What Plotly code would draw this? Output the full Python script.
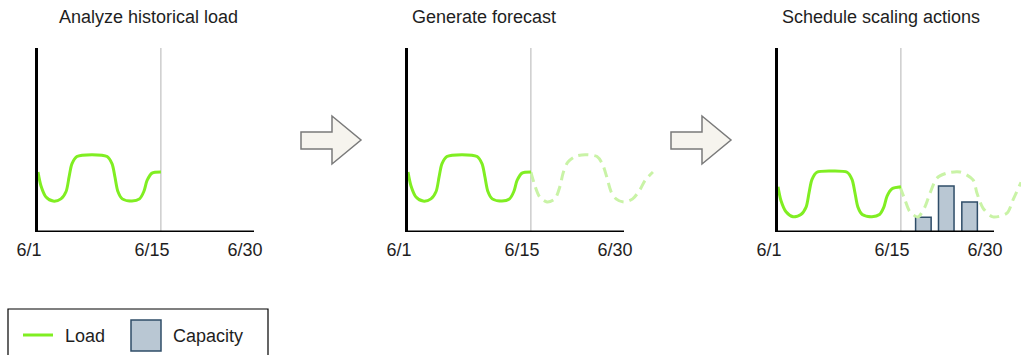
import plotly.graph_objects as go

# ── data ─────────────────────────────────────────────────────────────────────
# x is the time axis as a fraction of the month window (6/1 = 0, 6/30 = 1)
TICK_VALS = [0, 0.569, 1.0]
TICK_TEXT = ["6/1", "6/15", "6/30"]
SPLIT_X = 0.569          # "today" marker (6/15)

hist_x = [0, 0.014, 0.037, 0.07, 0.106, 0.13, 0.144, 0.157, 0.18, 0.25, 0.32,
          0.343, 0.356, 0.37, 0.39, 0.435, 0.47, 0.49, 0.505, 0.528, 0.569]
hist_load = [0.326, 0.25, 0.19, 0.168, 0.18, 0.22, 0.30, 0.37, 0.41, 0.42, 0.41,
             0.37, 0.30, 0.22, 0.18, 0.168, 0.18, 0.22, 0.28, 0.32, 0.326]

fc_x = [0.569, 0.588, 0.61, 0.644, 0.68, 0.704, 0.718, 0.74, 0.773, 0.82, 0.875,
        0.9, 0.92, 0.94, 0.963, 1.0, 1.04, 1.074, 1.097, 1.134]
fc_load = [0.326, 0.25, 0.19, 0.163, 0.18, 0.25, 0.32, 0.38, 0.41, 0.42, 0.41,
           0.37, 0.30, 0.22, 0.18, 0.163, 0.18, 0.23, 0.28, 0.326]

# third panel: load drawn lower to leave room for the capacity bars
hist3_load = [0.246, 0.17, 0.11, 0.083, 0.095, 0.135, 0.215, 0.285, 0.325, 0.332, 0.325,
              0.285, 0.215, 0.135, 0.095, 0.083, 0.095, 0.135, 0.195, 0.235, 0.246]
fc3_x = [0.565, 0.588, 0.611, 0.648, 0.68, 0.704, 0.736, 0.782, 0.843, 0.903,
         0.921, 0.949, 0.995, 1.06, 1.088, 1.125]
fc3_load = [0.246, 0.174, 0.109, 0.082, 0.136, 0.212, 0.293, 0.32, 0.326, 0.283,
            0.212, 0.13, 0.082, 0.103, 0.174, 0.27]

cap_x = [0.673, 0.779, 0.887]
cap_h = [0.08, 0.25, 0.163]

TITLES = ["Analyze historical load", "Generate forecast", "Schedule scaling actions"]

# ── style ────────────────────────────────────────────────────────────────────
W, H = 1021, 355
FONT = "Liberation Sans, Arial, sans-serif"
FS = 18
GREEN = "#80ee22"
GREEN_LT = "#c9f3a6"
BAR_FILL = "#b9c7d3"
BAR_EDGE = "#2f4d68"
TXT = "#1e1e1e"


def px(x):
    return x / W


def py(y):
    return 1 - y / H


Y_DOM = [py(232), py(48)]
panels = [  # (left px, x range max)
    (38, 1.15),
    (408, 1.15),
    (778, 1.125),
]

fig = go.Figure()

line_hist = dict(color=GREEN, width=3, shape="spline", smoothing=0.8)
line_fc = dict(color=GREEN_LT, width=3, dash="10px,6px", shape="spline", smoothing=0.8)

# panel 1
fig.add_trace(go.Scatter(x=hist_x, y=hist_load, mode="lines", line=line_hist,
                         xaxis="x", yaxis="y", showlegend=False))
# panel 2
fig.add_trace(go.Scatter(x=fc_x, y=fc_load, mode="lines", line=line_fc,
                         xaxis="x2", yaxis="y2", showlegend=False))
fig.add_trace(go.Scatter(x=hist_x, y=hist_load, mode="lines", line=line_hist,
                         xaxis="x2", yaxis="y2", showlegend=False))
# panel 3
fig.add_trace(go.Scatter(x=fc3_x, y=fc3_load, mode="lines", line=line_fc,
                         xaxis="x3", yaxis="y3", showlegend=False))
fig.add_trace(go.Scatter(x=hist_x, y=hist3_load, mode="lines", line=line_hist,
                         xaxis="x3", yaxis="y3", showlegend=False))
fig.add_trace(go.Bar(x=cap_x, y=cap_h, width=0.072,
                     marker=dict(color=BAR_FILL, line=dict(color=BAR_EDGE, width=1.5)),
                     xaxis="x3", yaxis="y3", showlegend=False))

layout_axes = {}
shapes = []
annotations = []
for i, (left, xmax) in enumerate(panels):
    sfx = "" if i == 0 else str(i + 1)
    right = min(left + 216 * xmax, W)
    layout_axes["xaxis" + sfx] = dict(
        domain=[px(left), px(right)], range=[0, xmax], anchor="y" + sfx,
        showgrid=False, zeroline=False, showline=False, automargin=False,
        tickvals=TICK_VALS, ticktext=TICK_TEXT, ticks="",
        tickfont=dict(family=FONT, size=FS, color=TXT),
        ticklabelshift=-9, ticklabelstandoff=5,
    )
    layout_axes["yaxis" + sfx] = dict(
        domain=Y_DOM, range=[0, 1], anchor="x" + sfx, automargin=False,
        showgrid=False, zeroline=False, showticklabels=False,
        showline=True, linecolor="black", linewidth=3,
    )
    xr, yr = "x" + sfx, "y" + sfx
    # "today" marker
    shapes.append(dict(type="line", xref=xr, yref=yr, x0=SPLIT_X, x1=SPLIT_X, y0=0, y1=1,
                       line=dict(color="#b3b3b3", width=1), layer="below"))
    # time axis baseline (stops at 6/30)
    shapes.append(dict(type="line", xref=xr, yref=yr, x0=0, x1=1.0, y0=0, y1=0,
                       line=dict(color="black", width=3)))

annotations += [
    dict(x=px(148), y=py(17), text=TITLES[0]),
    dict(x=px(484), y=py(17), text=TITLES[1]),
    dict(x=px(881), y=py(17), text=TITLES[2]),
]
for a in annotations:
    a.update(xref="paper", yref="paper", showarrow=False, xanchor="center", yanchor="middle",
             font=dict(family=FONT, size=FS, color=TXT))

# block arrows between the steps
for dx in (0, 370):
    pts = [(301, 132), (332, 132), (332, 116), (361, 140), (332, 164), (332, 149), (301, 149)]
    path = "M " + " L ".join(f"{px(x + dx):.5f},{py(y):.5f}" for x, y in pts) + " Z"
    shapes.append(dict(type="path", xref="paper", yref="paper", path=path,
                       fillcolor="#f6f4ee", line=dict(color="#7a7a7a", width=1.5)))

# legend (drawn by hand to get the large swatch)
shapes += [
    dict(type="rect", xref="paper", yref="paper", x0=px(8), x1=px(268), y0=py(360), y1=py(309),
         line=dict(color="black", width=1.2), fillcolor="white"),
    dict(type="line", xref="paper", yref="paper", x0=px(23), x1=px(53), y0=py(335), y1=py(335),
         line=dict(color=GREEN, width=3)),
    dict(type="rect", xref="paper", yref="paper", x0=px(131), x1=px(161), y0=py(351), y1=py(320),
         line=dict(color=BAR_EDGE, width=1.5), fillcolor=BAR_FILL),
]
for x, txt in [(63, "Load"), (171, "Capacity")]:
    annotations.append(dict(xref="paper", yref="paper", x=px(x), y=py(336), text=txt,
                            showarrow=False, xanchor="left", yanchor="middle",
                            font=dict(family=FONT, size=FS, color=TXT)))

fig.update_layout(
    width=W, height=H,
    margin=dict(l=0, r=0, t=0, b=0, pad=0, autoexpand=False),
    paper_bgcolor="white", plot_bgcolor="white",
    showlegend=False,
    shapes=shapes, annotations=annotations,
    **layout_axes,
)

# page margin off so the 1021x355 figure fills the window exactly
fig.write_html("out.html", config={"displayModeBar": False},
               post_script="document.body.style.margin='0';")
